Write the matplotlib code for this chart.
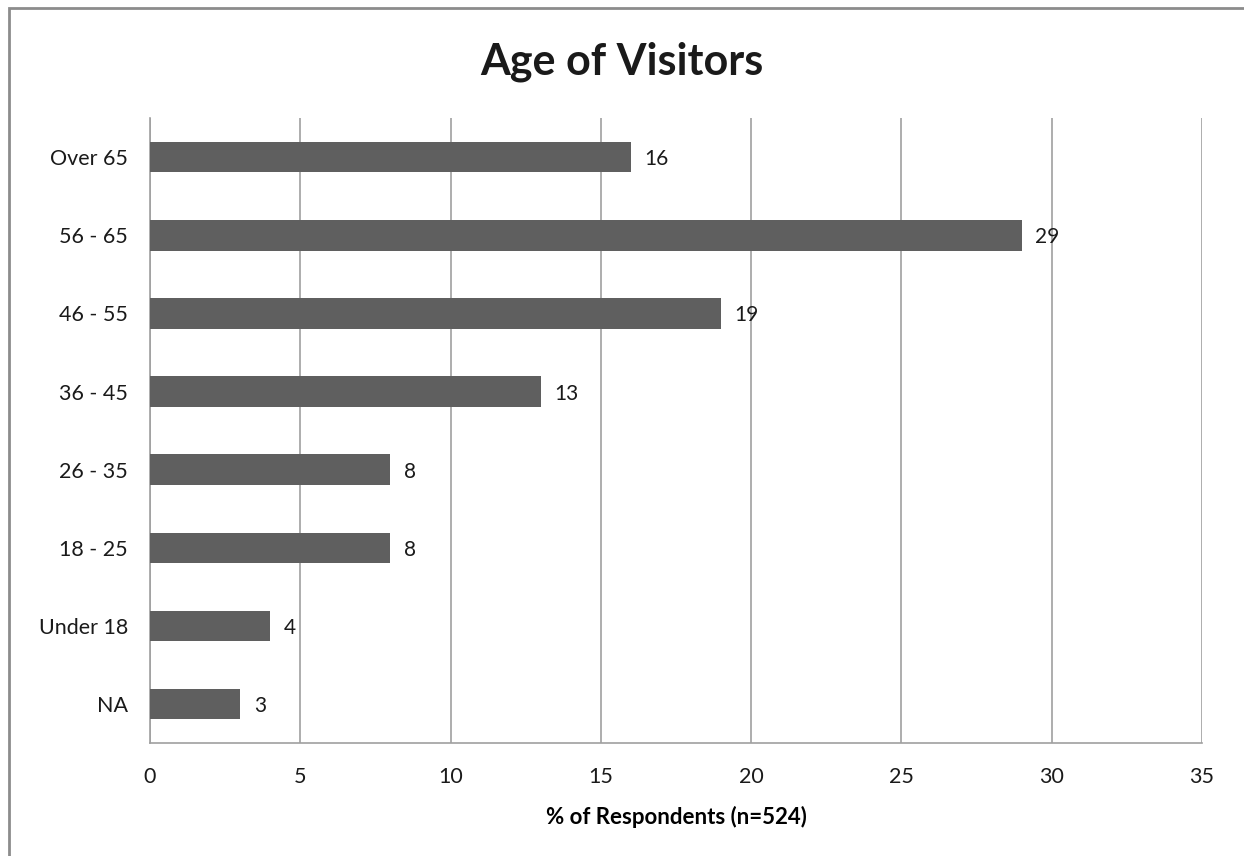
import matplotlib
matplotlib.use('Agg')
import matplotlib.pyplot as plt
from matplotlib.patches import Rectangle

categories = ['NA', 'Under 18', '18 - 25', '26 - 35', '36 - 45', '46 - 55', '56 - 65', 'Over 65']
values = [3, 4, 8, 8, 13, 19, 29, 16]

plt.rcParams['font.family'] = ['Lato', 'DejaVu Sans']

fig = plt.figure(figsize=(12.44, 8.56), dpi=100)
ax = fig.add_axes([0.1206, 0.132, 0.8456, 0.730])

# Outer chart frame
fig.patches.append(Rectangle((9 / 1244, -0.01), 1.1, 1 - 8 / 856 + 0.01,
                             transform=fig.transFigure, fill=False,
                             edgecolor='#8c8c8c', linewidth=2))

y = range(len(categories))
ax.barh(y, values, height=0.39, color='#5f5f5f', zorder=3)

for yi, v in zip(y, values):
    ax.text(v + 0.45, yi, f'{v}', va='center_baseline', ha='left', fontsize=15,
            color='#1a1a1a', zorder=4)

ax.set_xlim(0, 35)
ax.set_ylim(-0.5, len(categories) - 0.5)
ax.set_xticks(range(0, 36, 5))
ax.set_yticks(list(y))
ax.set_yticklabels(categories)
ax.tick_params(axis='both', length=0, labelsize=15.5, colors='#1a1a1a')
ax.tick_params(axis='x', pad=17)
ax.tick_params(axis='y', pad=16)

ax.grid(axis='x', color='#a0a0a0', linewidth=1.2, zorder=0)
for side in ['top', 'right']:
    ax.spines[side].set_visible(False)
for side in ['left', 'bottom']:
    ax.spines[side].set_color('#a0a0a0')
    ax.spines[side].set_linewidth(1.2)

ax.set_xlabel('% of Respondents (n=524)', fontsize=16, fontweight='bold', labelpad=14)
fig.text(0.5, 1 - 62 / 856, 'Age of Visitors', ha='center', va='center',
         fontsize=31, fontweight='bold', color='#1a1a1a')

fig.savefig('out.png', dpi=100)
